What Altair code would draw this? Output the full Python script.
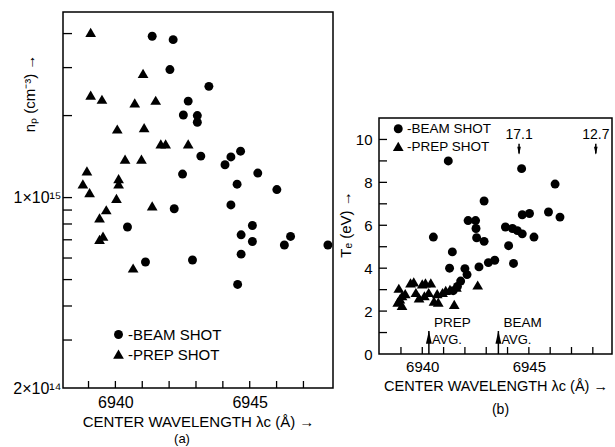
import altair as alt
import pandas as pd

FONT = "Liberation Sans"

# ---------------- panel (a): n_p versus centre wavelength ----------------
a_beam_wl = [6941.37, 6942.15, 6942.03, 6943.48, 6942.71, 6942.53, 6943.05, 6943.05,
             6943.18, 6944.08, 6944.30, 6944.66, 6942.50, 6945.30, 6944.53, 6946.01,
             6942.19, 6944.30, 6940.45, 6944.68, 6945.10, 6945.10, 6946.29, 6946.52,
             6947.91, 6944.68, 6941.12, 6942.87, 6944.55]
a_beam_np = [3.91e15, 3.80e15, 2.95e15, 2.56e15, 2.26e15, 2.01e15, 2.00e15, 1.89e15,
             1.42e15, 1.32e15, 1.41e15, 1.48e15, 1.22e15, 1.23e15, 1.12e15, 1.07e15,
             0.91e15, 0.94e15, 0.78e15, 0.73e15, 0.79e15, 0.69e15, 0.67e15, 0.72e15,
             0.67e15, 0.62e15, 0.58e15, 0.59e15, 0.48e15]
a_prep_wl = [6939.08, 6941.03, 6939.08, 6939.50, 6940.72, 6941.50, 6940.07, 6941.07,
             6941.69, 6941.87, 6942.71, 6940.36, 6940.97, 6938.94, 6938.79, 6940.12,
             6940.12, 6939.04, 6940.04, 6941.37, 6939.66, 6939.41, 6939.54, 6939.41,
             6940.66]
a_prep_np = [4.03e15, 2.85e15, 2.37e15, 2.29e15, 2.22e15, 2.27e15, 1.78e15, 1.80e15,
             1.57e15, 1.57e15, 1.57e15, 1.38e15, 1.38e15, 1.25e15, 1.12e15, 1.17e15,
             1.12e15, 1.04e15, 0.99e15, 0.93e15, 0.90e15, 0.84e15, 0.72e15, 0.70e15,
             0.55e15]
a_xticks = [6939, 6940, 6941, 6942, 6943, 6944, 6945, 6946, 6947]
a_xlabels = [6940, 6945]
a_yticks = [3e14, 4e14, 5e14, 6e14, 7e14, 8e14, 9e14, 1e15, 2e15, 3e15, 4e15]
a_ylabels = [2e14, 1e15]

# ---------------- panel (b): T_e versus centre wavelength ----------------
b_beam_wl = [6941.22, 6944.66, 6946.23, 6942.90, 6945.92, 6945.03, 6944.69, 6946.46,
             6942.15, 6942.50, 6942.52, 6943.90, 6944.23, 6944.46, 6944.69, 6945.24,
             6940.52, 6942.55, 6942.90, 6944.05, 6941.41, 6943.40, 6943.10, 6942.66,
             6944.28, 6941.28, 6942.00, 6942.10, 6941.80, 6941.65, 6941.45]
b_beam_te = [9.00, 8.64, 7.92, 7.13, 6.62, 6.55, 6.49, 6.38,
             6.22, 6.22, 5.85, 5.92, 5.85, 5.75, 5.60, 5.45,
             5.45, 5.42, 5.25, 5.05, 4.76, 4.37, 4.26, 4.06,
             4.22, 4.00, 3.98, 3.70, 3.40, 3.15, 2.95]
b_prep_wl = [6938.90, 6938.85, 6939.05, 6939.05, 6939.20, 6939.45, 6939.60, 6939.70,
             6939.85, 6940.00, 6940.15, 6940.10, 6940.30, 6940.40, 6940.55, 6940.70,
             6940.75, 6940.95, 6941.10, 6941.30, 6941.50, 6941.60, 6942.60, 6938.95]
b_prep_te = [3.05, 2.40, 2.25, 2.70, 2.80, 3.30, 3.35, 2.85,
             2.60, 3.25, 3.30, 2.70, 2.85, 3.30, 2.45, 2.80,
             2.40, 2.85, 2.95, 3.00, 2.30, 3.10, 3.20, 2.55]
b_avg_wl = [6940.31, 6943.57]
b_avg_name = ["PREP", "BEAM"]
b_off_wl = [6944.54, 6948.14]
b_off_te = ["17.1", "12.7"]
b_xticks = [6939, 6940, 6941, 6942, 6943, 6944, 6945, 6946, 6947, 6948]
b_xlabels = [6940, 6945]
b_yticks = [1, 2, 3, 4, 5, 6, 7, 8, 9, 10]
b_ylabels = [0, 2, 4, 6, 8, 10]

KINDS = ["BEAM SHOT", "PREP SHOT"]
XTITLE = "CENTER WAVELENGTH λc (Å) →"
TRIANGLE = "M0,-1.1L-1.2,0.95L1.2,0.95Z"
shape_scale = alt.Scale(domain=KINDS, range=["circle", TRIANGLE])


def legend(x, y, size, rowpad):
    return alt.Legend(orient="none", legendX=x, legendY=y, title=None,
                      labelExpr="'-' + datum.label", labelFontSize=size,
                      labelFont=FONT, labelColor="black", labelOffset=2,
                      symbolSize=80, symbolFillColor="black", symbolStrokeColor="black",
                      symbolOpacity=1, symbolStrokeWidth=0, rowPadding=rowpad, padding=0)


# ---------- panel (a) ----------
df_a = pd.DataFrame({
    "wl": a_beam_wl + a_prep_wl,
    "val": a_beam_np + a_prep_np,
    "kind": [KINDS[0]] * len(a_beam_wl) + [KINDS[1]] * len(a_prep_wl),
})
xa = alt.Scale(domain=[6938.05, 6948.1], nice=False, zero=False)
ya = alt.Scale(type="log", domain=[2e14, 4.8e15], nice=False)
WA, HA = 270, 376

pts_a = alt.Chart(df_a).mark_point(filled=True, opacity=1, color="black", size=80).encode(
    x=alt.X("wl:Q", scale=xa, axis=alt.Axis(
        values=a_xlabels, format="d", title=XTITLE, labelFontSize=16, titleFontSize=15,
        labelPadding=6, titlePadding=4.5)),
    y=alt.Y("val:Q", scale=ya, axis=alt.Axis(
        values=a_ylabels, labelExpr="datum.value > 5e14 ? '1×10¹⁵' : '2×10¹⁴'",
        labelFontSize=16, labelPadding=2,
        title="nₚ (cm⁻³) →", titleFontSize=15, titleAngle=270, titleX=-34, titleY=81,
        titleAlign="center", titleBaseline="middle")),
    shape=alt.Shape("kind:N", scale=shape_scale, legend=legend(48, 315, 15, 4)),
)
xt_a = alt.Chart(pd.DataFrame({"wl": a_xticks})).mark_rule(color="black", strokeWidth=1.3).encode(
    x=alt.X("wl:Q", scale=xa), y=alt.value(HA), y2=alt.value(HA - 7))
yt_a = alt.Chart(pd.DataFrame({"val": a_yticks})).mark_rule(color="black", strokeWidth=1.3).encode(
    y=alt.Y("val:Q", scale=ya), x=alt.value(0), x2=alt.value(9))
pad_a = alt.Chart(pd.DataFrame({"p": [0]})).mark_rule(opacity=0).encode(
    x=alt.value(-56), x2=alt.value(-55), y=alt.value(100))

panel_a = alt.layer(pts_a, xt_a, yt_a, pad_a).properties(
    width=WA, height=HA,
    title=alt.TitleParams("(a)", orient="bottom", offset=3, dx=-16, fontSize=13,
                          fontWeight="normal", font=FONT, color="black"))

# ---------- panel (b) ----------
df_b = pd.DataFrame({
    "wl": b_beam_wl + b_prep_wl,
    "val": b_beam_te + b_prep_te,
    "kind": [KINDS[0]] * len(b_beam_wl) + [KINDS[1]] * len(b_prep_wl),
})
xb = alt.Scale(domain=[6937.97, 6948.9], nice=False, zero=False)
yb = alt.Scale(domain=[0, 11.0], nice=False, zero=False)
WB, HB = 233, 236
SPACE = 104

pts_b = alt.Chart(df_b).mark_point(filled=True, opacity=1, color="black", size=80).encode(
    x=alt.X("wl:Q", scale=xb, axis=alt.Axis(
        values=b_xlabels, format="d", title=XTITLE, labelFontSize=15, titleFontSize=14.5,
        labelPadding=5.5, titlePadding=5)),
    y=alt.Y("val:Q", scale=yb, axis=alt.Axis(
        values=b_ylabels, format="d", labelFontSize=15, labelPadding=7,
        title="Tₑ (eV) →", titleFontSize=15, titleAngle=270, titleX=-33.7, titleY=106,
        titleAlign="center", titleBaseline="middle")),
    shape=alt.Shape("kind:N", scale=shape_scale, legend=legend(12.5, SPACE + 6, 13.5, 3)),
)
xt_b = alt.Chart(pd.DataFrame({"wl": b_xticks})).mark_rule(color="black", strokeWidth=1.3).encode(
    x=alt.X("wl:Q", scale=xb), y=alt.value(HB), y2=alt.value(HB - 7))
yt_b = alt.Chart(pd.DataFrame({"val": b_yticks})).mark_rule(color="black", strokeWidth=1.3).encode(
    y=alt.Y("val:Q", scale=yb), x=alt.value(0), x2=alt.value(8))

avg_df = pd.DataFrame({"wl": b_avg_wl, "name": b_avg_name})
avg_shaft = alt.Chart(avg_df).mark_rule(color="black", strokeWidth=1.5).encode(
    x=alt.X("wl:Q", scale=xb), y=alt.datum(0), y2=alt.datum(1.07))
avg_head = alt.Chart(avg_df).mark_point(
    shape="M0,-1L-0.45,1L0.45,1Z", filled=True, opacity=1, color="black", size=170).encode(
    x=alt.X("wl:Q", scale=xb), y=alt.datum(0.78))
avg_name = alt.Chart(avg_df).mark_text(
    align="left", baseline="middle", dx=5, fontSize=13.5, font=FONT, color="black").encode(
    x=alt.X("wl:Q", scale=xb), y=alt.datum(1.46), text="name:N")
avg_avg = alt.Chart(avg_df).mark_text(
    align="left", baseline="middle", dx=3, fontSize=13, font=FONT, color="black").encode(
    x=alt.X("wl:Q", scale=xb), y=alt.datum(0.65), text=alt.value("AVG."))

off_df = pd.DataFrame({"wl": b_off_wl, "lab": b_off_te})
off_text = alt.Chart(off_df).mark_text(
    align="center", baseline="middle", fontSize=14, font=FONT, color="black").encode(
    x=alt.X("wl:Q", scale=xb), y=alt.datum(10.22), text="lab:N")
off_shaft = alt.Chart(off_df).mark_rule(color="black", strokeWidth=1.5).encode(
    x=alt.X("wl:Q", scale=xb), y=alt.datum(9.8), y2=alt.datum(9.35))
off_head = alt.Chart(off_df).mark_point(
    shape="M0,1L-0.45,-1L0.45,-1Z", filled=True, opacity=1, color="black", size=64).encode(
    x=alt.X("wl:Q", scale=xb), y=alt.datum(9.47))
pad_b = alt.Chart(pd.DataFrame({"p": [0]})).mark_rule(opacity=0).encode(
    x=alt.value(-44), x2=alt.value(-43), y=alt.value(100))

panel_b = alt.layer(pts_b, xt_b, yt_b, avg_shaft, avg_head, avg_name, avg_avg,
                    off_text, off_shaft, off_head, pad_b).properties(
    width=WB, height=HB,
    title=alt.TitleParams("(b)", orient="bottom", offset=10, dx=5, fontSize=14,
                          fontWeight="normal", font=FONT, color="black"))

# empty space above panel (b)
spacer = alt.Chart(pd.DataFrame({"p": [0]})).mark_rule(opacity=0).encode(
    x=alt.value(0), y=alt.value(0), y2=alt.value(SPACE)
).properties(width=WB, height=SPACE, view=alt.ViewBackground(stroke="transparent"))

right_col = alt.vconcat(spacer, panel_b, spacing=0)

chart = alt.hconcat(panel_a, right_col, spacing=0).resolve_scale(
    shape="independent").resolve_legend(shape="independent").properties(
    padding={"left": 6, "top": 11, "right": 2, "bottom": 0},
    background="white",
).configure_view(stroke="black", strokeWidth=1.5).configure_axis(
    domain=False, ticks=False, grid=False, labelColor="black", titleColor="black",
    labelFont=FONT, titleFont=FONT, titleFontWeight="normal",
).configure_title(font=FONT, fontWeight="normal", color="black")

chart.save("out.html", embed_options={"renderer": "svg", "actions": False})
